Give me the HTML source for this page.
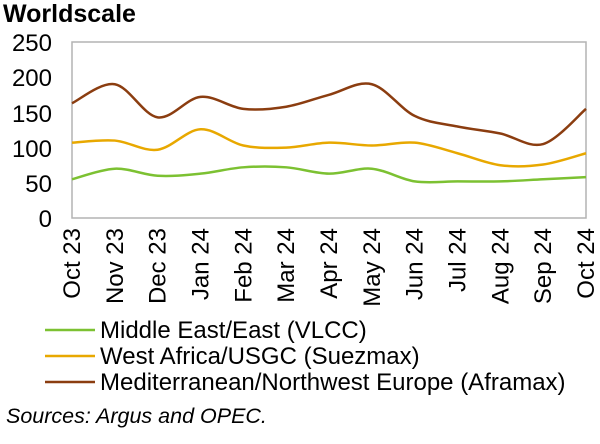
<!DOCTYPE html>
<html><head><style>
body{margin:0;background:#fff;width:600px;height:439px;overflow:hidden;font-family:"Liberation Sans",Arial,sans-serif}
</style></head><body>
<svg id="s" width="600" height="439" xmlns="http://www.w3.org/2000/svg" font-family="Liberation Sans, Arial, sans-serif">
<text x="3" y="22" font-size="25" font-weight="bold">Worldscale</text>
<rect x="72" y="42" width="514" height="176" fill="none" stroke="#b3b3b3" stroke-width="1.5"/>
<g font-size="24" text-anchor="end">
<text x="52" y="227">0</text><text x="52" y="192">50</text><text x="52" y="157">100</text>
<text x="52" y="122">150</text><text x="52" y="86">200</text><text x="52" y="51">250</text>
</g>
<g id="xl" font-size="24" text-anchor="end"></g>
<g id="ln" fill="none" stroke-width="2.5"></g>
<line x1="45" y1="330" x2="95" y2="330" stroke="#7cc132" stroke-width="2.5"/>
<line x1="45" y1="356" x2="95" y2="356" stroke="#e8a800" stroke-width="2.5"/>
<line x1="45" y1="382" x2="95" y2="382" stroke="#8b3d10" stroke-width="2.5"/>
<g font-size="24"><text x="100" y="338">Middle East/East (VLCC)</text>
<text x="100" y="364">West Africa/USGC (Suezmax)</text>
<text x="100" y="390">Mediterranean/Northwest Europe (Aframax)</text></g>
<text x="6" y="423" font-size="21.5" font-style="italic">Sources: Argus and OPEC.</text>
</svg>
<script>
var labs=["Oct 23","Nov 23","Dec 23","Jan 24","Feb 24","Mar 24","Apr 24","May 24","Jun 24","Jul 24","Aug 24","Sep 24","Oct 24"];
var xl=document.getElementById("xl"),ns="http://www.w3.org/2000/svg";
function X(i){return 72+i*514/12}function Y(v){return 218-v*0.704}
labs.forEach(function(l,i){var t=document.createElementNS(ns,"text");t.setAttribute("transform","translate("+(X(i)+8)+",228) rotate(-90)");t.textContent=l;xl.appendChild(t)});
var data=[["#7cc132",[55,70,60,63,72,72,63,70,52,52,52,55,58]],
["#e8a800",[107,110,97,126,103,100,107,103,107,92,75,76,92]],
["#8b3d10",[163,190,143,172,155,158,175,190,145,130,120,105,155]]];
var g=document.getElementById("ln");
data.forEach(function(d){var p=d[1].map(function(v,i){return[X(i),Y(v)]});var s="M"+p[0];
for(var i=0;i<p.length-1;i++){var a=p[i-1]||p[i],b=p[i],c=p[i+1],e=p[i+2]||c;
s+=" C"+(b[0]+(c[0]-a[0])/6)+","+(b[1]+(c[1]-a[1])/6)+" "+(c[0]-(e[0]-b[0])/6)+","+(c[1]-(e[1]-b[1])/6)+" "+c;}
var pa=document.createElementNS(ns,"path");pa.setAttribute("d",s);pa.setAttribute("stroke",d[0]);g.appendChild(pa)});
</script>
</body></html>
